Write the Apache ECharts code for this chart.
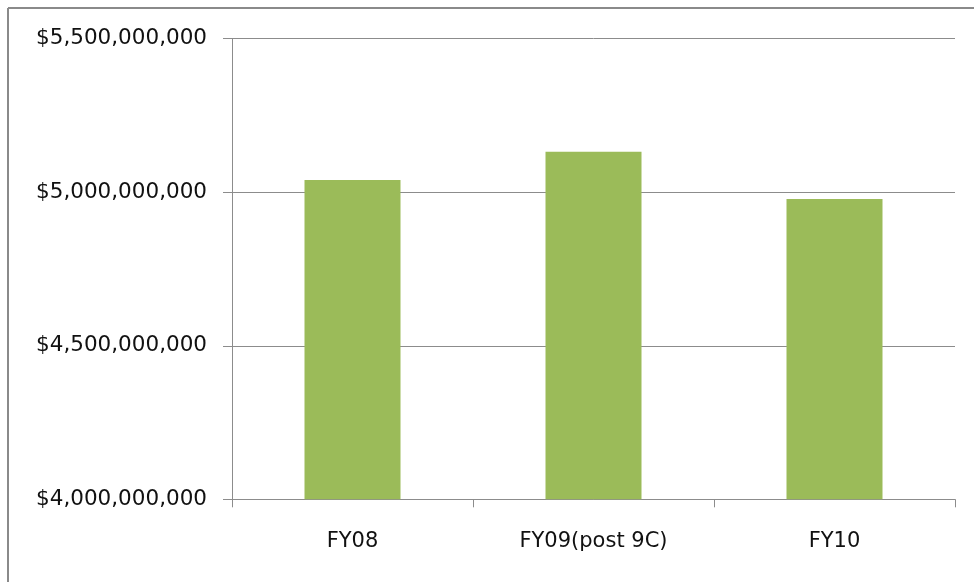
<!DOCTYPE html>
<html>
<head>
<meta charset="utf-8">
<script src="https://cdn.jsdelivr.net/npm/echarts@6/dist/echarts.min.js"></script>
<style>
html,body{margin:0;padding:0;background:#fff;overflow:hidden;}
#chart{width:974px;height:582px;}
</style>
</head>
<body>
<div id="chart"></div>
<script>
const categories = ['FY08', 'FY09(post 9C)', 'FY10'];
const values = [5040000000, 5132000000, 4978000000];
const yTicks = { min: 4000000000, max: 5500000000, interval: 500000000 };

const chart = echarts.init(document.getElementById('chart'));
chart.setOption({
  animation: false,
  backgroundColor: '#fff',
  graphic: [
    { type: 'line', shape: { x1: 8, y1: 8, x2: 974, y2: 8 }, style: { stroke: '#8a8a8a', lineWidth: 2 }, silent: true },
    { type: 'line', shape: { x1: 8, y1: 8, x2: 8, y2: 582 }, style: { stroke: '#8a8a8a', lineWidth: 2 }, silent: true }
  ],
  grid: { left: 232, right: 19, top: 38.7, bottom: 82.7, containLabel: false },
  xAxis: {
    type: 'category',
    data: categories,
    axisLine: { show: true, lineStyle: { color: '#8c8c8c', width: 1 } },
    axisTick: { show: true, length: 8, lineStyle: { color: '#8c8c8c' } },
    axisLabel: { fontFamily: 'DejaVu Sans', fontSize: 21, color: '#111', margin: 32 }
  },
  yAxis: {
    type: 'value',
    min: yTicks.min, max: yTicks.max, interval: yTicks.interval,
    axisLine: { show: true, lineStyle: { color: '#8c8c8c', width: 1 } },
    axisTick: { show: true, length: 9, lineStyle: { color: '#8c8c8c' } },
    splitLine: { show: true, lineStyle: { color: '#8c8c8c', width: 1 } },
    axisLabel: {
      fontFamily: 'DejaVu Sans', fontSize: 21.5, color: '#111', margin: 25,
      formatter: v => '$' + Math.round(v).toLocaleString('en-US')
    }
  },
  series: [{
    type: 'bar',
    data: values,
    barWidth: 96,
    itemStyle: { color: '#9bbb59' }
  }]
});
</script>
</body>
</html>
